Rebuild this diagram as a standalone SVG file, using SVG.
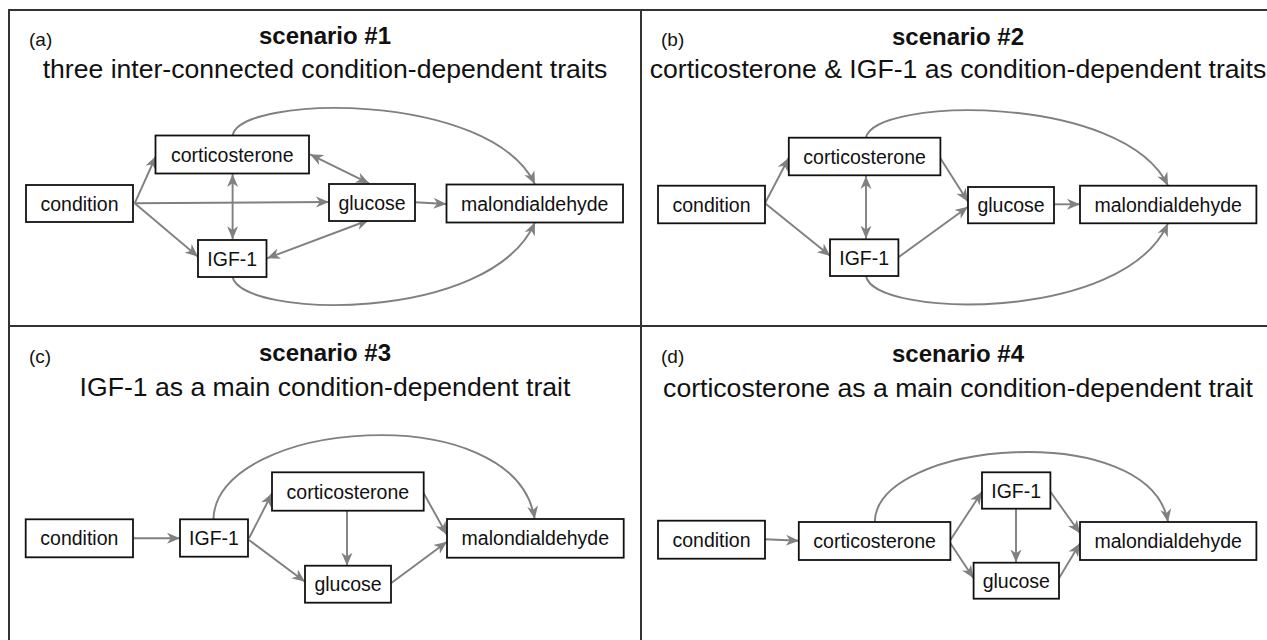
<svg xmlns="http://www.w3.org/2000/svg" width="1267" height="640" viewBox="0 0 1267 640">
<style>
.frame{stroke:#333;stroke-width:2;fill:none}
.box{fill:#fff;stroke:#111;stroke-width:1.8}
.lbl{font-family:"Liberation Sans",Arial,sans-serif;font-size:19.5px;fill:#111;text-anchor:middle}
.tag{font-family:"Liberation Sans",Arial,sans-serif;font-size:19px;fill:#111}
.ttl{font-family:"Liberation Sans",Arial,sans-serif;font-size:24px;font-weight:bold;fill:#111;text-anchor:middle}
.sub{font-family:"Liberation Sans",Arial,sans-serif;font-size:26.6px;fill:#111;text-anchor:middle}
.e{fill:none;stroke:#808080;stroke-width:1.9;marker-end:url(#ah)}
.b{marker-start:url(#ah)}
</style>
<defs>
<marker id="ah" markerUnits="userSpaceOnUse" viewBox="0 0 14 12" markerWidth="14" markerHeight="12" refX="13" refY="6" orient="auto-start-reverse">
<path d="M0,0.5 L13,6 L0,11.5 L3.8,6 Z" fill="#808080"/>
</marker>
</defs>
<rect width="1267" height="640" fill="#fff"/>
<g id="frame">
<path class="frame" d="M9,640 L9,10 L1267,10 M9,326 L1267,326 M641,10 L641,640"/>
</g>
<g id="headings">
<text class="tag" x="29" y="46">(a)</text>
<text class="ttl" x="325" y="44">scenario #1</text>
<text class="sub" x="325" y="78">three inter-connected condition-dependent traits</text>
<text class="tag" x="661" y="46">(b)</text>
<text class="ttl" x="958" y="44.5">scenario #2</text>
<text class="sub" x="958" y="78">corticosterone &amp; IGF-1 as condition-dependent traits</text>
<text class="tag" x="29" y="363">(c)</text>
<text class="ttl" x="325" y="361">scenario #3</text>
<text class="sub" x="325" y="395.5">IGF-1 as a main condition-dependent trait</text>
<text class="tag" x="661" y="363">(d)</text>
<text class="ttl" x="958" y="362">scenario #4</text>
<text class="sub" x="958" y="396.5">corticosterone as a main condition-dependent trait</text>
</g>
<g id="connectors">
<path class="e" d="M134.7,203.3 L156,156"/>
<path class="e" d="M134.7,203.3 L329,202"/>
<path class="e" d="M134.7,203.3 L198,256.7"/>
<path class="e b" d="M232.6,174 L232.6,239.3"/>
<path class="e b" d="M310,154.3 L369,183.3"/>
<path class="e b" d="M267,258.3 L369,220"/>
<path class="e" d="M415,202.3 L446.5,204"/>
<path class="e" d="M232.6,135.3 C240,95 490,90 535,184.3"/>
<path class="e" d="M232.6,276.7 C240,318 490,325 535,222.3"/>
<path class="e" d="M765,203.3 L788.8,157.7"/>
<path class="e" d="M765,203.3 L830.4,256"/>
<path class="e b" d="M866,176 L866,238.7"/>
<path class="e" d="M940.4,158.3 L968,201.7"/>
<path class="e" d="M898.4,257.3 L968,206.7"/>
<path class="e" d="M1054,204.3 L1080,204.3"/>
<path class="e" d="M866,137.7 C873,97.4 1123,92.4 1168,185.7"/>
<path class="e" d="M866,276 C873,317.3 1123,324.3 1168,223.3"/>
<path class="e" d="M133,538.3 L180,538.3"/>
<path class="e" d="M249,538.3 L272,493.3"/>
<path class="e" d="M249,540 L305,581.7"/>
<path class="e" d="M347,510.7 L347,565.7"/>
<path class="e" d="M423.7,493.3 L447,535"/>
<path class="e" d="M391,583.3 L447,541.7"/>
<path class="e" d="M213.5,519.3 C215,420 515,395 534.7,519"/>
<path class="e" d="M765,539.3 L799,540.7"/>
<path class="e" d="M950.4,540 L982,491.7"/>
<path class="e" d="M950.4,543.3 L973.6,578.3"/>
<path class="e" d="M1016,508.7 L1016,562.5"/>
<path class="e" d="M1050.4,491.7 L1080,533.3"/>
<path class="e" d="M1059,578.3 L1080,543.3"/>
<path class="e" d="M874.8,522 C876,440 1150,418 1168,522"/>
</g>
<g id="a-condition"><rect class="box" x="26" y="185" width="107" height="37"/><text class="lbl" x="79.5" y="210.5">condition</text></g>
<g id="a-corticosterone"><rect class="box" x="155.5" y="135.5" width="153.5" height="38"/><text class="lbl" x="232.25" y="161.5">corticosterone</text></g>
<g id="a-glucose"><rect class="box" x="329" y="184" width="86" height="37"/><text class="lbl" x="372" y="209.5">glucose</text></g>
<g id="a-malondialdehyde"><rect class="box" x="446.5" y="184.5" width="176.5" height="38"/><text class="lbl" x="534.75" y="210.5">malondialdehyde</text></g>
<g id="a-igf1"><rect class="box" x="198" y="240" width="68.5" height="37"/><text class="lbl" x="232.25" y="265.5">IGF-1</text></g>
<g id="b-condition"><rect class="box" x="658" y="185.7" width="107" height="37.6"/><text class="lbl" x="711.5" y="211.5">condition</text></g>
<g id="b-corticosterone"><rect class="box" x="788.8" y="137.7" width="151.6" height="37.6"/><text class="lbl" x="864.6" y="163.5">corticosterone</text></g>
<g id="b-glucose"><rect class="box" x="968" y="187" width="86" height="36.3"/><text class="lbl" x="1011" y="212.2">glucose</text></g>
<g id="b-malondialdehyde"><rect class="box" x="1080" y="185.7" width="176.4" height="37.6"/><text class="lbl" x="1168.2" y="211.5">malondialdehyde</text></g>
<g id="b-igf1"><rect class="box" x="830" y="239.3" width="68.4" height="36.7"/><text class="lbl" x="864.2" y="264.7">IGF-1</text></g>
<g id="c-condition"><rect class="box" x="25.7" y="519.3" width="107.3" height="38"/><text class="lbl" x="79.35" y="545.3">condition</text></g>
<g id="c-igf1"><rect class="box" x="180" y="519.3" width="68" height="37.4"/><text class="lbl" x="214" y="545">IGF-1</text></g>
<g id="c-corticosterone"><rect class="box" x="272" y="472.3" width="151.7" height="38.4"/><text class="lbl" x="347.85" y="498.5">corticosterone</text></g>
<g id="c-glucose"><rect class="box" x="305" y="565.7" width="86" height="37"/><text class="lbl" x="348" y="591.2">glucose</text></g>
<g id="c-malondialdehyde"><rect class="box" x="447" y="519" width="176.7" height="38.7"/><text class="lbl" x="535.35" y="545.3">malondialdehyde</text></g>
<g id="d-condition"><rect class="box" x="658" y="520.7" width="107" height="38"/><text class="lbl" x="711.5" y="546.7">condition</text></g>
<g id="d-corticosterone"><rect class="box" x="798.8" y="522" width="151.6" height="38"/><text class="lbl" x="874.6" y="548">corticosterone</text></g>
<g id="d-igf1"><rect class="box" x="982" y="472.3" width="68.4" height="36.4"/><text class="lbl" x="1016.2" y="497.5">IGF-1</text></g>
<g id="d-glucose"><rect class="box" x="973.6" y="562.7" width="85.4" height="36"/><text class="lbl" x="1016.3" y="587.7">glucose</text></g>
<g id="d-malondialdehyde"><rect class="box" x="1080" y="522" width="176.4" height="38"/><text class="lbl" x="1168.2" y="548">malondialdehyde</text></g>
</svg>
